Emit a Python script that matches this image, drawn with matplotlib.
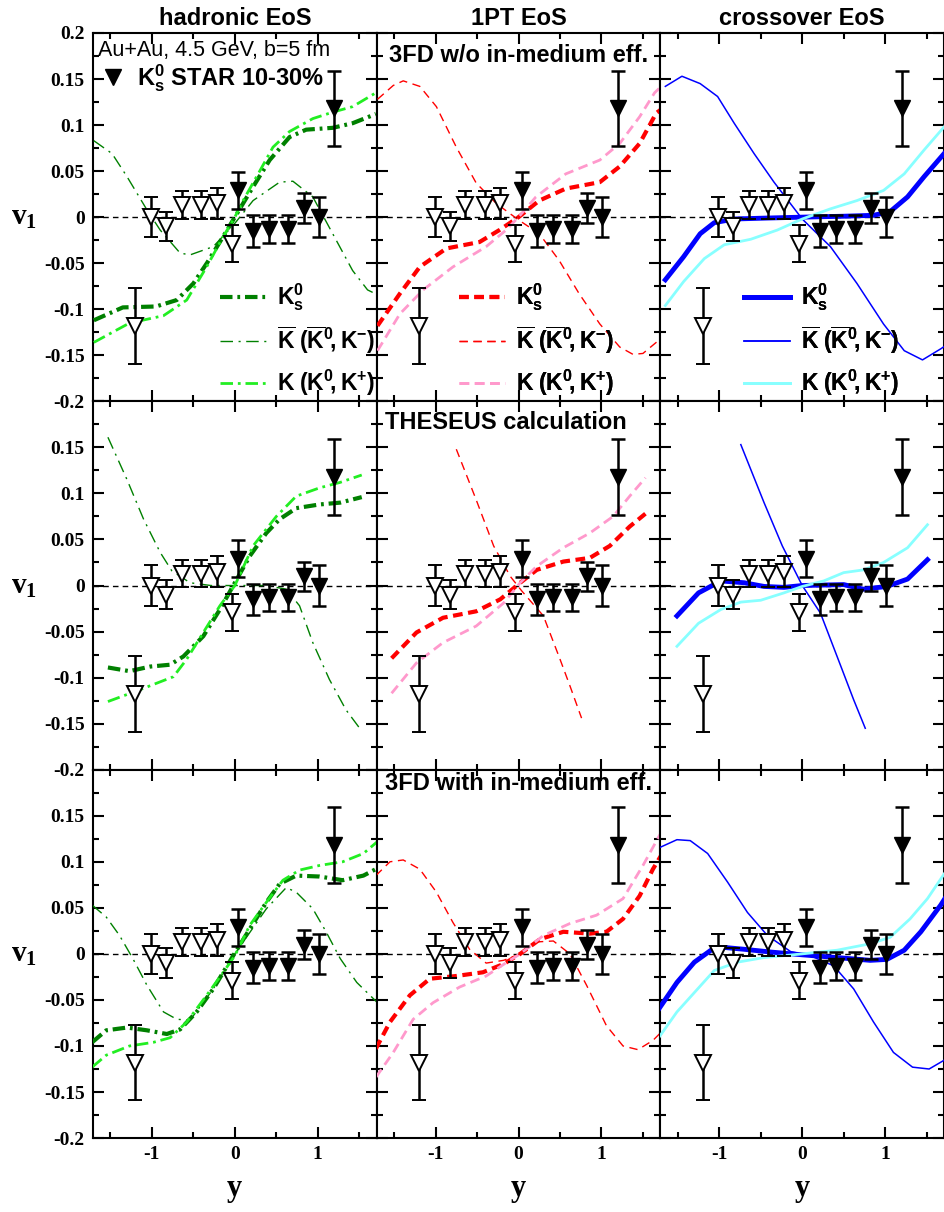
import numpy as np
import matplotlib
matplotlib.use("Agg")
import matplotlib.pyplot as plt
from matplotlib.lines import Line2D
from matplotlib.ticker import MultipleLocator, FixedLocator, FixedFormatter

plt.rcParams['font.family'] = ['Liberation Sans', 'DejaVu Sans']
plt.rcParams['mathtext.fontset'] = 'custom'
plt.rcParams['mathtext.rm'] = 'Liberation Sans:bold'
plt.rcParams['mathtext.it'] = 'Liberation Sans:bold'
plt.rcParams['mathtext.sf'] = 'Liberation Sans:bold'
plt.rcParams['mathtext.bf'] = 'Liberation Serif:bold'
plt.rcParams['axes.unicode_minus'] = False
plt.rcParams['lines.scale_dashes'] = False

# STAR K0s v1, 10-30% (filled = measured, open = reflected)
star_y = np.array([0.04, 0.22, 0.41, 0.64, 0.83, 1.01, 1.20])
star_v = np.array([0.029, -0.015, -0.013, -0.013, 0.010, 0.0, 0.118])
star_err = np.array([0.020, 0.017, 0.015, 0.015, 0.016, 0.022, 0.041])

# ---- row 1: 3FD w/o in-medium effects ----
had0_ks_y = [-1.70, -1.35, -0.95, -0.70, -0.50, -0.33, -0.14, 0.0, 0.22, 0.42, 0.66, 0.86, 1.18, 1.42, 1.70]
had0_ks_v = [-0.112, -0.098, -0.097, -0.090, -0.072, -0.049, -0.021, 0.0, 0.033, 0.062, 0.087, 0.095, 0.097, 0.102, 0.112]
had0_kb_y = [-1.70, -1.48, -1.30, -1.06, -0.90, -0.66, -0.54, -0.26, -0.02, 0.22, 0.54, 0.70, 0.94, 1.18, 1.42, 1.60, 1.69]
had0_kb_v = [0.083, 0.069, 0.044, 0.008, -0.014, -0.039, -0.041, -0.032, -0.009, 0.018, 0.038, 0.039, 0.022, -0.018, -0.058, -0.079, -0.083]
had0_k_y = [-1.70, -1.27, -0.86, -0.58, -0.34, -0.14, 0.0, 0.10, 0.30, 0.46, 0.66, 0.94, 1.18, 1.42, 1.70]
had0_k_v = [-0.136, -0.115, -0.107, -0.090, -0.054, -0.021, 0.0, 0.018, 0.050, 0.076, 0.093, 0.107, 0.114, 0.120, 0.135]

pt0_ks_y = [-1.70, -1.43, -1.19, -0.87, -0.47, -0.23, 0.0, 0.25, 0.57, 0.98, 1.22, 1.46, 1.66, 1.72]
pt0_ks_v = [-0.118, -0.083, -0.054, -0.034, -0.027, -0.014, 0.0, 0.018, 0.031, 0.038, 0.055, 0.080, 0.113, 0.117]
pt0_kb_y = [-1.70, -1.51, -1.39, -1.19, -0.99, -0.75, -0.51, -0.27, 0.0, 0.25, 0.49, 0.73, 0.98, 1.22, 1.38, 1.50, 1.62, 1.70]
pt0_kb_v = [0.128, 0.143, 0.148, 0.142, 0.120, 0.076, 0.037, 0.015, -0.003, -0.018, -0.047, -0.083, -0.116, -0.141, -0.149, -0.148, -0.139, -0.133]
pt0_k_y = [-1.70, -1.43, -1.15, -0.79, -0.39, -0.15, 0.0, 0.21, 0.57, 0.98, 1.22, 1.46, 1.64, 1.72]
pt0_k_v = [-0.145, -0.105, -0.079, -0.054, -0.032, -0.014, 0.0, 0.022, 0.047, 0.062, 0.080, 0.109, 0.135, 0.142]

co0_ks_y = [-1.65, -1.43, -1.23, -1.06, -0.82, -0.43, 0.0, 0.50, 0.86, 1.06, 1.27, 1.47, 1.72]
co0_ks_v = [-0.068, -0.043, -0.018, -0.006, -0.002, -0.001, 0.0, 0.001, 0.002, 0.006, 0.022, 0.044, 0.070]
co0_kb_y = [-1.65, -1.45, -1.23, -1.02, -0.82, -0.58, -0.34, 0.0, 0.34, 0.66, 0.98, 1.23, 1.45, 1.67, 1.72]
co0_kb_v = [0.142, 0.153, 0.145, 0.131, 0.102, 0.069, 0.038, -0.002, -0.032, -0.072, -0.116, -0.145, -0.155, -0.143, -0.140]
co0_k_y = [-1.65, -1.43, -1.18, -0.94, -0.62, -0.30, 0.0, 0.34, 0.66, 0.98, 1.23, 1.47, 1.72]
co0_k_v = [-0.096, -0.070, -0.045, -0.030, -0.024, -0.014, -0.002, 0.009, 0.018, 0.029, 0.047, 0.073, 0.099]

# ---- row 2: THESEUS ----
had1_ks_y = [-1.53, -1.27, -1.02, -0.78, -0.62, -0.38, -0.18, 0.0, 0.18, 0.38, 0.54, 0.74, 1.02, 1.27, 1.53]
had1_ks_v = [-0.089, -0.093, -0.088, -0.086, -0.077, -0.055, -0.026, 0.003, 0.032, 0.057, 0.072, 0.084, 0.088, 0.090, 0.096]
had1_kb_y = [-1.53, -1.30, -1.10, -0.90, -0.76, -0.54, -0.29, 0.0, 0.38, 0.62, 0.78, 0.94, 1.14, 1.34, 1.53]
had1_kb_v = [0.161, 0.115, 0.072, 0.036, 0.016, 0.003, 0.0, 0.0, 0.0, -0.004, -0.022, -0.062, -0.102, -0.135, -0.158]
had1_k_y = [-1.53, -1.14, -0.74, -0.58, -0.38, -0.18, 0.0, 0.22, 0.50, 0.74, 1.02, 1.27, 1.53]
had1_k_v = [-0.126, -0.113, -0.099, -0.080, -0.051, -0.022, 0.0, 0.043, 0.075, 0.097, 0.106, 0.112, 0.120]

pt1_ks_y = [-1.53, -1.23, -0.91, -0.51, -0.22, 0.02, 0.22, 0.54, 0.86, 1.10, 1.34, 1.53]
pt1_ks_v = [-0.079, -0.051, -0.035, -0.028, -0.015, 0.003, 0.017, 0.026, 0.030, 0.043, 0.064, 0.078]
pt1_kb_y = [-0.75, -0.51, -0.30, -0.10, 0.04, 0.30, 0.50, 0.62, 0.76]
pt1_kb_v = [0.148, 0.093, 0.043, 0.010, -0.006, -0.033, -0.080, -0.109, -0.144]
pt1_k_y = [-1.53, -1.23, -0.91, -0.51, -0.18, 0.02, 0.22, 0.54, 0.86, 1.14, 1.34, 1.53]
pt1_k_v = [-0.117, -0.084, -0.062, -0.044, -0.019, 0.003, 0.021, 0.041, 0.057, 0.075, 0.097, 0.117]

co1_ks_y = [-1.51, -1.25, -0.98, -0.70, -0.46, -0.22, 0.0, 0.50, 0.74, 1.02, 1.27, 1.51]
co1_ks_v = [-0.033, -0.008, 0.005, 0.003, -0.001, -0.002, 0.0, 0.001, -0.004, -0.001, 0.007, 0.028]
co1_kb_y = [-0.74, -0.46, -0.24, 0.0, 0.22, 0.48, 0.62, 0.76]
co1_kb_v = [0.153, 0.090, 0.043, 0.0, -0.030, -0.091, -0.124, -0.155]
co1_k_y = [-1.51, -1.25, -0.98, -0.74, -0.50, -0.22, 0.0, 0.26, 0.50, 0.74, 0.98, 1.27, 1.51]
co1_k_v = [-0.066, -0.041, -0.026, -0.018, -0.016, -0.008, -0.001, 0.005, 0.014, 0.017, 0.025, 0.041, 0.066]

# ---- row 3: 3FD with in-medium effects ----
had2_ks_y = [-1.72, -1.55, -1.30, -1.06, -0.82, -0.66, -0.46, -0.26, -0.02, 0.18, 0.38, 0.54, 0.74, 1.02, 1.30, 1.55, 1.72]
had2_ks_v = [-0.096, -0.083, -0.080, -0.083, -0.087, -0.082, -0.063, -0.038, -0.002, 0.027, 0.056, 0.076, 0.085, 0.084, 0.080, 0.085, 0.093]
had2_kb_y = [-1.72, -1.55, -1.39, -1.23, -1.06, -0.86, -0.70, -0.54, -0.26, 0.0, 0.38, 0.62, 0.74, 0.94, 1.10, 1.27, 1.47, 1.72]
had2_kb_v = [0.053, 0.040, 0.020, -0.005, -0.034, -0.063, -0.071, -0.072, -0.038, 0.0, 0.049, 0.072, 0.067, 0.049, 0.024, -0.005, -0.031, -0.053]
had2_k_y = [-1.72, -1.55, -1.27, -0.98, -0.78, -0.58, -0.34, -0.14, 0.0, 0.18, 0.38, 0.58, 0.78, 1.02, 1.30, 1.55, 1.72]
had2_k_v = [-0.123, -0.110, -0.100, -0.096, -0.091, -0.074, -0.045, -0.020, -0.002, 0.031, 0.056, 0.080, 0.091, 0.096, 0.100, 0.109, 0.122]

pt2_ks_y = [-1.72, -1.55, -1.31, -1.07, -0.75, -0.43, -0.18, 0.02, 0.26, 0.54, 0.86, 1.06, 1.26, 1.46, 1.62, 1.72]
pt2_ks_v = [-0.103, -0.074, -0.045, -0.027, -0.024, -0.020, -0.011, 0.0, 0.016, 0.024, 0.022, 0.024, 0.038, 0.063, 0.092, 0.107]
pt2_kb_y = [-1.72, -1.55, -1.39, -1.19, -0.99, -0.79, -0.59, -0.39, -0.18, 0.02, 0.22, 0.42, 0.62, 0.82, 1.06, 1.26, 1.44, 1.62, 1.72]
pt2_kb_v = [0.085, 0.100, 0.102, 0.092, 0.067, 0.034, 0.005, -0.010, -0.007, 0.0, 0.013, 0.014, 0.0, -0.034, -0.078, -0.100, -0.104, -0.094, -0.085]
pt2_k_y = [-1.72, -1.51, -1.27, -1.03, -0.71, -0.39, -0.14, 0.02, 0.30, 0.62, 0.94, 1.26, 1.50, 1.72]
pt2_k_v = [-0.134, -0.107, -0.071, -0.053, -0.036, -0.024, -0.009, 0.0, 0.020, 0.033, 0.042, 0.060, 0.096, 0.132]

co2_ks_y = [-1.73, -1.51, -1.30, -1.10, -0.94, -0.70, -0.38, 0.0, 0.42, 0.82, 1.02, 1.23, 1.43, 1.67, 1.72]
co2_ks_v = [-0.060, -0.031, -0.009, 0.004, 0.007, 0.005, 0.002, -0.001, -0.004, -0.007, -0.006, 0.004, 0.024, 0.053, 0.060]
co2_kb_y = [-1.73, -1.51, -1.35, -1.14, -0.90, -0.66, -0.42, -0.14, 0.10, 0.38, 0.62, 0.86, 1.10, 1.33, 1.53, 1.72]
co2_kb_v = [0.115, 0.124, 0.123, 0.109, 0.078, 0.045, 0.020, 0.0025, -0.002, -0.013, -0.038, -0.074, -0.107, -0.123, -0.125, -0.115]
co2_k_y = [-1.73, -1.51, -1.30, -1.06, -0.78, -0.46, 0.0, 0.42, 0.82, 1.06, 1.30, 1.51, 1.72]
co2_k_v = [-0.091, -0.063, -0.042, -0.018, -0.009, -0.004, 0.0, 0.004, 0.011, 0.018, 0.038, 0.060, 0.088]

col_titles = ['hadronic EoS', '1PT EoS', 'crossover EoS']
row_notes = ['3FD w/o in-medium eff.', 'THESEUS calculation', '3FD with in-medium eff.']
ytick_vals = [-0.2, -0.15, -0.1, -0.05, 0, 0.05, 0.1, 0.15, 0.2]
ytick_text = ['-0.2', '-0.15', '-0.1', '-0.05', '0', '0.05', '0.1', '0.15', '0.2']

curves = [
    [(had0_ks_y, had0_ks_v, had0_kb_y, had0_kb_v, had0_k_y, had0_k_v),
     (pt0_ks_y, pt0_ks_v, pt0_kb_y, pt0_kb_v, pt0_k_y, pt0_k_v),
     (co0_ks_y, co0_ks_v, co0_kb_y, co0_kb_v, co0_k_y, co0_k_v)],
    [(had1_ks_y, had1_ks_v, had1_kb_y, had1_kb_v, had1_k_y, had1_k_v),
     (pt1_ks_y, pt1_ks_v, pt1_kb_y, pt1_kb_v, pt1_k_y, pt1_k_v),
     (co1_ks_y, co1_ks_v, co1_kb_y, co1_kb_v, co1_k_y, co1_k_v)],
    [(had2_ks_y, had2_ks_v, had2_kb_y, had2_kb_v, had2_k_y, had2_k_v),
     (pt2_ks_y, pt2_ks_v, pt2_kb_y, pt2_kb_v, pt2_k_y, pt2_k_v),
     (co2_ks_y, co2_ks_v, co2_kb_y, co2_kb_v, co2_k_y, co2_k_v)],
]

# styles per EoS: (K0s, Kbar, K)
styles = [
    [dict(color='#008000', lw=3.0, dashes=[9, 3.5, 2, 3.5]),
     dict(color='#008000', lw=1.0, dashes=[9, 4, 1.5, 4]),
     dict(color='#22ee22', lw=2.0, dashes=[9, 3.5, 2, 3.5])],
    [dict(color='#ff0000', lw=3.0, dashes=[7, 4]),
     dict(color='#ff0000', lw=1.0, dashes=[6, 4]),
     dict(color='#ff99cc', lw=2.0, dashes=[7, 4])],
    [dict(color='#0000ff', lw=3.5, ls='-'),
     dict(color='#0000ff', lw=1.1, ls='-'),
     dict(color='#88ffff', lw=2.0, ls='-')],
]
labels = [r'$\mathrm{K}^{0}_{s}$',
          r'$\overline{\mathrm{K}}\;(\overline{\mathrm{K}}^{0}\!,\mathrm{K}^{-})$',
          r'$\mathrm{K}\;(\mathrm{K}^{0}\!,\mathrm{K}^{+})$']
leg_x = [0.447, 0.29, 0.295]

fig, axes = plt.subplots(3, 3, figsize=(9.45, 12.12), dpi=100)
fig.subplots_adjust(left=0.0984, right=0.999, bottom=0.061, top=0.9728, wspace=0, hspace=0)

for r in range(3):
    for c in range(3):
        ax = axes[r, c]
        ax.set_xlim(-1.71, 1.71)
        ax.set_ylim(-0.2, 0.2)
        ax.axhline(0, color='k', lw=1, ls=(0, (4, 3)), zorder=1)

        ks_y, ks_v, kb_y, kb_v, k_y, k_v = curves[r][c]
        h1, = ax.plot(ks_y, ks_v, label=labels[0], zorder=3, **styles[c][0])
        h2, = ax.plot(kb_y, kb_v, label=labels[1], zorder=3, **styles[c][1])
        h3, = ax.plot(k_y, k_v, label=labels[2], zorder=3, **styles[c][2])

        # STAR data, measured and reflected
        ax.errorbar(star_y, star_v, yerr=star_err, fmt='v', color='k', ms=11,
                    capsize=5, elinewidth=1.8, capthick=1.8, zorder=5)
        ax.errorbar(-star_y, -star_v, yerr=star_err, fmt='v', color='k', mfc='white',
                    mec='k', mew=1.4, ms=11, capsize=5, elinewidth=1.8, capthick=1.8, zorder=5)

        ax.xaxis.set_major_locator(FixedLocator([-1, 0, 1]))
        ax.xaxis.set_major_formatter(FixedFormatter(['-1', '0', '1']))
        ax.xaxis.set_minor_locator(FixedLocator([-1.5, -0.5, 0.5, 1.5]))
        ax.yaxis.set_major_locator(FixedLocator(ytick_vals))
        yt = list(ytick_text)
        if r > 0:
            yt[-1] = ''
        ax.yaxis.set_major_formatter(FixedFormatter(yt))
        ax.yaxis.set_minor_locator(MultipleLocator(0.025))
        ax.tick_params(which='both', direction='in', top=True, right=True, width=1.5)
        ax.tick_params(which='major', length=8)
        ax.tick_params(which='minor', length=4.5)
        ax.tick_params(labelleft=(c == 0), labelbottom=(r == 2), pad=6)
        for lab in ax.get_xticklabels() + ax.get_yticklabels():
            lab.set_fontfamily('Liberation Serif')
            lab.set_fontweight('bold')
            lab.set_fontsize(14)
        for sp in ax.spines.values():
            sp.set_linewidth(1.5)

        if c == 0:
            ax.set_ylabel(r'$\mathbf{v}_{\mathbf{1}}$', rotation=0, fontsize=21,
                          labelpad=14, va='center')
        if r == 2:
            ax.set_xlabel(r'$\mathbf{y}$', fontsize=22, labelpad=8)
        if r == 0:
            ax.set_title(col_titles[c], fontsize=17, fontweight='bold', pad=6)
            leg = ax.legend(handles=[h1, h2, h3], loc='upper left',
                            bbox_to_anchor=(leg_x[c], 0.325), frameon=False,
                            fontsize=16.5, handlelength=2.0, handletextpad=0.5,
                            labelspacing=0.5, borderpad=0, borderaxespad=0)
            ax.add_artist(leg)

axes[0, 0].text(0.018, 0.982, 'Au+Au, 4.5 GeV, b=5 fm', transform=axes[0, 0].transAxes,
                fontsize=15.5, ha='left', va='top')
star_h = Line2D([], [], marker='v', color='k', ls='none', ms=11)
axes[0, 0].legend(handles=[star_h], labels=[r'$\mathrm{K}^{0}_{s}$ STAR 10-30%'],
                  loc='upper left', bbox_to_anchor=(0.03, 0.92), frameon=False,
                  prop=dict(size=17, weight='bold'), handlelength=1.0,
                  handletextpad=0.5, borderpad=0, borderaxespad=0)

note_pos = [(0.5, 0.94), (0.455, 0.943), (0.5, 0.962)]
for r in range(3):
    axes[r, 1].text(note_pos[r][0], note_pos[r][1], row_notes[r], transform=axes[r, 1].transAxes,
                    fontsize=17, fontweight='bold', ha='center', va='center')

fig.savefig('out.png', dpi=100)
